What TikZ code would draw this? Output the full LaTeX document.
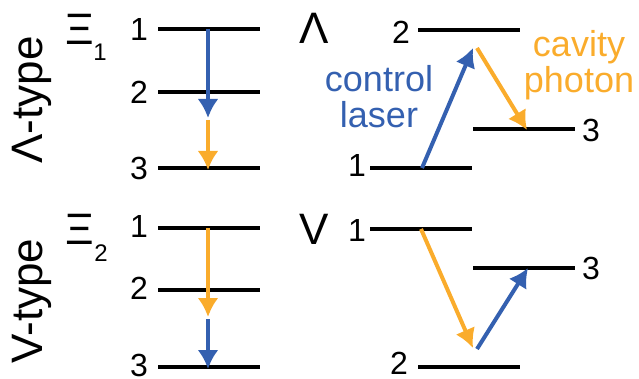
\documentclass[tikz,border=0pt]{standalone}
\usepackage{fontspec}
\setmainfont{Liberation Sans}
\usetikzlibrary{arrows.meta,positioning}
\definecolor{laserblue}{RGB}{52,96,176}
\definecolor{cavorange}{RGB}{250,172,44}
\tikzset{
	lvl/.style={line width=4pt},
	trans/.style={line width=4pt, -{Latex[length=19pt,width=21pt]}},
	num/.style={font=\fontsize{32}{32}\selectfont, inner sep=0pt},
	big/.style={font=\fontsize{44}{44}\selectfont, inner sep=0pt},
	sub/.style={font=\fontsize{24}{24}\selectfont, inner sep=0pt},
	tag/.style={font=\fontsize{36}{36}\selectfont, inner sep=0pt, align=center},
}

\begin{document}
\begin{tikzpicture}[x=1pt, y=-1pt]
	\useasboundingbox (0,0) rectangle (639,379);
	% row labels
	\node[big, rotate=90] (typeA) at (32,100) {Λ-type};
	\node[big, rotate=90] (typeV) at (32,301) {V-type};
	\node[big] (xiA) at (80,29) {Ξ};
	\node[sub] (xiAsub) at (100,52) {1};
	\node[big] (xiV) at (80,229) {Ξ};
	\node[sub] (xiVsub) at (101,253) {2};
	% left ladders
	\foreach \n/\ya/\yv in {1/29/228, 2/92/290, 3/168/367} {
			\draw[lvl] (158,\ya) -- (260,\ya);
			\draw[lvl] (158,\yv) -- (260,\yv);
			\node[num, anchor=east] (la\n) at (148,\ya) {\n};
			\node[num, anchor=east] (lv\n) at (148,\yv-2) {\n};
		}
	\coordinate (a1) at (208,29);
	\coordinate (a2) at (208,118);
	\coordinate (a2b) at (208,120);
	\coordinate (a3) at (208,170);
	\draw[trans, laserblue] (a1) -- (a2);
	\draw[trans, cavorange] (a2b) -- (a3);
	\coordinate (v1) at (208,228);
	\coordinate (v2) at (208,317);
	\coordinate (v2b) at (208,319);
	\coordinate (v3) at (208,369);
	\draw[trans, cavorange] (v1) -- (v2);
	\draw[trans, laserblue] (v2b) -- (v3);
	% Lambda scheme
	\node[big] (lam) at (314,28) {Λ};
	\draw[lvl] (418,30) -- (520,30);
	\draw[lvl] (473,129) -- (575,129);
	\draw[lvl] (370,168) -- (472,168);
	\node[num, anchor=east] (rl2) at (410,32) {2};
	\node[num, anchor=west] (rl3) at (582,130) {3};
	\node[num, anchor=east] (rl1) at (366,165) {1};
	\coordinate (l1) at (422,168);
	\coordinate (l2) at (473,48);
	\coordinate (l2b) at (477,48);
	\coordinate (l3) at (527,130);
	\draw[trans, laserblue] (l1) -- (l2);
	\draw[trans, cavorange] (l2b) -- (l3);
	\node[tag, text=laserblue] (ctrl) at (379,97) {control\\laser};
	\node[tag, text=cavorange] (cav) at (579,65) {cavity\\photon};
	% V scheme
	\node[big] (vee) at (314,229) {V};
	\draw[lvl] (370,229) -- (472,229);
	\draw[lvl] (473,268) -- (575,268);
	\draw[lvl] (418,367) -- (520,367);
	\node[num, anchor=east] (rv1) at (366,230) {1};
	\node[num, anchor=west] (rv3) at (582,268) {3};
	\node[num, anchor=east] (rv2) at (408,363) {2};
	\coordinate (w1) at (421,229);
	\coordinate (w2) at (473,348);
	\coordinate (w2b) at (477,349);
	\coordinate (w3) at (528,268);
	\draw[trans, cavorange] (w1) -- (w2);
	\draw[trans, laserblue] (w2b) -- (w3);
\end{tikzpicture}
\end{document}
